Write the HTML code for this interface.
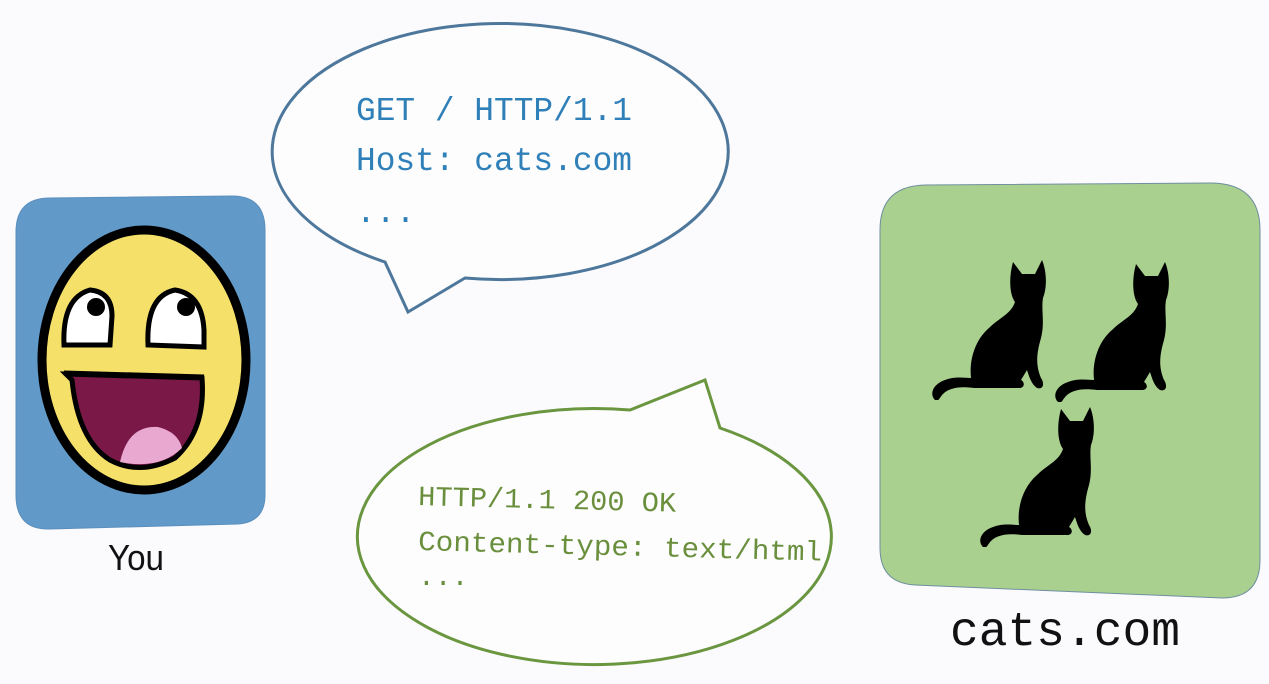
<!DOCTYPE html>
<html><head><style>
html,body{margin:0;padding:0;background:#fbfbfd;}
svg{display:block}
</style></head><body>
<svg width="1269" height="684" viewBox="0 0 1269 684" xmlns="http://www.w3.org/2000/svg">
<defs>
<symbol id="cat" viewBox="0 0 120 140">
<path d="M84,2 L93,14 L106,14 L113,0 C118,12 118,28 114,38 C112,50 116,62 112,78 C108,92 106,104 112,118 C116,124 114,130 108,128 C102,124 100,116 98,110 L92,120 C96,122 96,128 90,128 L45,128 C30,126 20,128 14,134 C10,138 10,142 6,140 C0,134 4,124 16,120 C26,116 36,118 42,118 C40,100 46,80 60,68 C70,58 82,54 86,42 C80,34 80,16 84,2 Z" fill="#000"/>
</symbol>
</defs>
<rect width="1269" height="684" fill="#fbfbfd"/>
<path d="M50,198 L232,196 Q265,196 265,230 L265,495 Q265,522 238,524 L50,529 Q16,530 16,495 L16,232 Q16,198 50,198 Z" fill="#6199c8" stroke="#5a8fbd"/>
<ellipse cx="144" cy="360" rx="102" ry="130" fill="#f5e06a" stroke="#000" stroke-width="9"/>
<path d="M64,345 Q62,298 90,290 Q112,292 112,316 L110,345 Z" fill="#fff" stroke="#000" stroke-width="5"/>
<path d="M148,345 Q146,296 175,290 Q202,294 204,330 L204,347 Z" fill="#fff" stroke="#000" stroke-width="5"/>
<circle cx="96" cy="307" r="9" fill="#000"/>
<circle cx="186" cy="307" r="9" fill="#000"/>
<path d="M66,374 L202,378 Q206,430 175,458 Q140,476 110,460 Q78,440 72,380 Z" fill="#7a1848" stroke="#000" stroke-width="5"/>
<path d="M120,462 Q128,425 158,427 Q178,432 182,448 Q160,470 120,462 Z" fill="#e8a8d0"/>
<line x1="64" y1="373" x2="204" y2="377" stroke="#000" stroke-width="5"/>
<text x="136" y="570" font-family="Liberation Sans, sans-serif" font-size="36" text-anchor="middle" fill="#111" textLength="56" lengthAdjust="spacingAndGlyphs">You</text>
<path d="M925,185 L1210,183 Q1260,183 1260,230 L1260,560 Q1260,598 1222,598 L915,585 Q880,583 880,548 L880,230 Q880,186 925,185 Z" fill="#a9d08e" stroke="#6f8fa0" stroke-width="1"/>
<use href="#cat" x="929" y="260" width="120" height="140"/>
<use href="#cat" x="1052" y="262" width="120" height="140"/>
<use href="#cat" x="977" y="407" width="120" height="140"/>
<text x="950" y="645" font-family="Liberation Mono, monospace" font-size="48" fill="#111" textLength="230" lengthAdjust="spacingAndGlyphs">cats.com</text>
<path d="M385,262 A228,128 0 1 1 465,278 L408,312 Z" fill="#fdfdfe" stroke="#4d779b" stroke-width="3"/>
<g font-family="Liberation Mono, monospace" font-size="33" fill="#2f80b8">
<text x="356" y="120" textLength="276" lengthAdjust="spacingAndGlyphs">GET / HTTP/1.1</text>
<text x="356" y="170" textLength="276" lengthAdjust="spacingAndGlyphs">Host: cats.com</text>
<text x="356" y="222">...</text>
</g>
<path d="M630,410 L705,380 L720,428 A237,128 0 1 1 630,410 Z" fill="#fdfdfe" stroke="#6b9640" stroke-width="3"/>
<g font-family="Liberation Mono, monospace" font-size="28" fill="#6a8f3c">
<text x="418" y="505" textLength="258" lengthAdjust="spacingAndGlyphs" transform="rotate(1.5 418 505)">HTTP/1.1 200 OK</text>
<text x="418" y="550" textLength="404" lengthAdjust="spacingAndGlyphs" transform="rotate(1.5 418 550)">Content-type: text/html</text>
<text x="418" y="585">...</text>
</g>
</svg>
</body></html>
